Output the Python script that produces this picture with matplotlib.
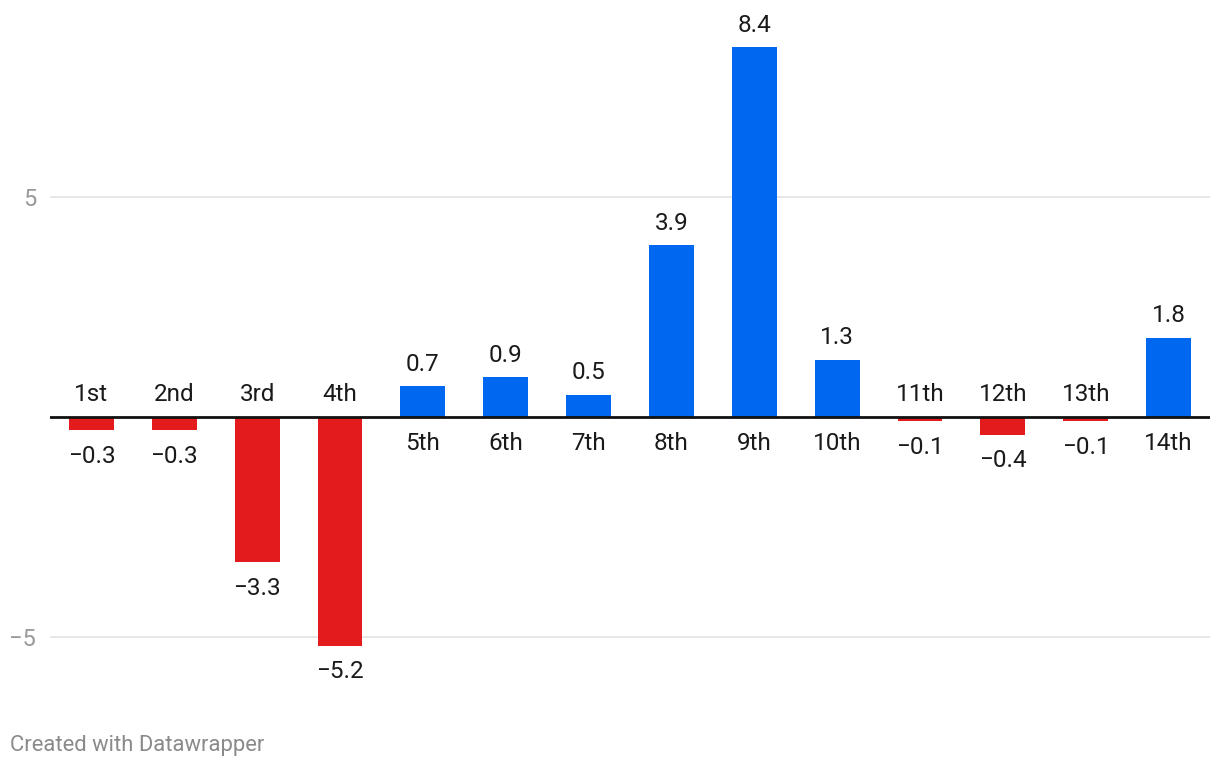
import matplotlib.pyplot as plt
import numpy as np

plt.rcParams['font.family'] = ['Roboto', 'DejaVu Sans']

categories = ['1st', '2nd', '3rd', '4th', '5th', '6th', '7th',
              '8th', '9th', '10th', '11th', '12th', '13th', '14th']
values = [-0.3, -0.3, -3.3, -5.2, 0.7, 0.9, 0.5, 3.9, 8.4, 1.3, -0.1, -0.4, -0.1, 1.8]

RED = '#e31b1c'
BLUE = '#0068f0'

fig = plt.figure(figsize=(12.2, 7.68), dpi=100)
ax = fig.add_axes([50 / 1220, 68 / 768, 1160 / 1220, 690 / 768])

x = np.arange(len(values))
colors = [BLUE if v > 0 else RED for v in values]
ax.bar(x, values, width=0.543, color=colors, zorder=2)

ax.set_xlim(-0.5, 13.5)
ax.set_ylim(-(700 - 417) / 44, (417 - 10) / 44)

# gridlines and zero line
for g in (-5, 5):
    ax.axhline(g, color='#e3e3e3', lw=1.2, zorder=1)
ax.axhline(0, color='#111111', lw=2, zorder=3)

ax.set_yticks([-5, 5])
ax.set_yticklabels(['\u22125', '5'], fontsize=17, color='#9a9a9a')
ax.tick_params(axis='y', length=0, pad=10)
ax.set_xticks([])
for s in ax.spines.values():
    s.set_visible(False)

FS = 17.5
up = 11.3    # baseline offset (pt) for text above a reference
down = 23.5  # baseline offset (pt) for text below a reference
for xi, v, c in zip(x, values, categories):
    val = f'{v:.1f}'.replace('-', '\u2212')
    if v > 0:
        ax.annotate(val, (xi, v), xytext=(0, up), textcoords='offset points',
                    ha='center', va='baseline', fontsize=FS, color='#1a1a1a')
        ax.annotate(c, (xi, 0), xytext=(0, -down), textcoords='offset points',
                    ha='center', va='baseline', fontsize=FS, color='#1a1a1a')
    else:
        ax.annotate(val, (xi, v), xytext=(0, -down), textcoords='offset points',
                    ha='center', va='baseline', fontsize=FS, color='#1a1a1a')
        ax.annotate(c, (xi, 0), xytext=(0, up), textcoords='offset points',
                    ha='center', va='baseline', fontsize=FS, color='#1a1a1a')

fig.text(10 / 1220, 1 - 745 / 768, 'Created with Datawrapper', ha='left', va='center',
         fontsize=15.8, color='#8a8a8a')

fig.savefig('out.png', dpi=100)
